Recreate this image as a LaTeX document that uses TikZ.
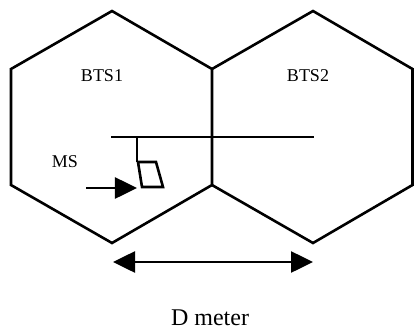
\documentclass[tikz,border=0pt]{standalone}
\usepackage{fontspec}
\setmainfont{Liberation Serif}
\usetikzlibrary{arrows.meta}
\begin{document}
\begin{tikzpicture}[x=1bp,y=-1bp,
  edge/.style={line width=2.6bp, line join=miter},
  lbl/.style={inner sep=0pt, font=\fontsize{18bp}{21bp}\selectfont},
  bigtip/.style={-{Triangle[length=22bp,width=21bp]}}]
\useasboundingbox (0,0) rectangle (414,329);
% hexagon 1
\coordinate (a1) at (112,11);
\coordinate (a2) at (212,69);
\coordinate (a3) at (212,185);
\coordinate (a4) at (112,243);
\coordinate (a5) at (11,185);
\coordinate (a6) at (11,69);
% hexagon 2
\coordinate (b1) at (313,11);
\coordinate (b2) at (412.5,69);
\coordinate (b3) at (412.5,185);
\coordinate (b4) at (313,243);
\draw[edge] (a1) -- (a2) -- (a3) -- (a4) -- (a5) -- (a6) -- cycle;
\draw[edge] (a2) -- (b1) -- (b2) -- (b3) -- (b4) -- (a3);
% labels
\node[lbl] (bts1) at (102,76) {BTS1};
\node[lbl] (bts2) at (308,76) {BTS2};
\node[lbl] (ms) at (65,162) {MS};
\node[inner sep=0pt, anchor=base, font=\fontsize{24bp}{27bp}\selectfont] (dm) at (210,325) {D meter};
% road and mobile
\coordinate (r1) at (111,137);
\coordinate (r2) at (314,137);
\coordinate (p0) at (137,137);
\coordinate (p1) at (138,162);
\coordinate (p2) at (156,162);
\coordinate (p3) at (163,187);
\coordinate (p4) at (142,187);
\draw[edge] (r1) -- (r2);
\draw[edge] (p0) -- (137,162);
\draw[edge] (p1) -- (p2) -- (p3) -- (p4) -- cycle;
% MS arrow
\coordinate (m1) at (86,188);
\coordinate (m2) at (137,188);
\draw[edge, bigtip] (m1) -- (m2);
% D arrow
\coordinate (d1) at (113,262);
\coordinate (d2) at (313,262);
\draw[edge, {Triangle[length=22bp,width=21bp]}-{Triangle[length=22bp,width=21bp]}] (d1) -- (d2);
\end{tikzpicture}
\end{document}
